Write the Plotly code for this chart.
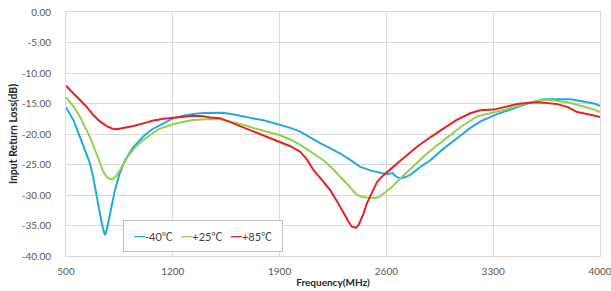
import plotly.graph_objects as go

freq_m40 = [500, 550, 592, 630, 657, 680, 701, 720, 734, 748, 756, 766, 784, 800, 821, 850, 887, 940, 1007, 1060,
            1117, 1160, 1204, 1270, 1335, 1400, 1464, 1532, 1600, 1663, 1730, 1800, 1860, 1904, 1970, 2035, 2100,
            2166, 2230, 2298, 2360, 2429, 2500, 2560, 2600, 2640, 2660, 2691, 2720, 2757, 2822, 2888, 2975, 3063,
            3150, 3220, 3282, 3330, 3400, 3457, 3540, 3631, 3720, 3806, 3900, 3960, 4000]
rl_m40 = [-15.6, -17.8, -20.5, -23.0, -24.8, -27.3, -30.3, -33.0, -34.6, -36.0, -36.6, -35.8, -33.5, -31.3, -29.2,
          -26.6, -24.3, -22.2, -20.4, -19.3, -18.5, -17.9, -17.4, -17.0, -16.7, -16.55, -16.5, -16.5, -16.8, -17.1,
          -17.5, -17.8, -18.2, -18.5, -19.0, -19.6, -20.6, -21.5, -22.3, -23.2, -24.2, -25.4, -26.0, -26.4, -26.6,
          -26.4, -26.9, -27.3, -27.1, -26.7, -25.4, -24.3, -22.4, -20.7, -19.0, -17.9, -17.2, -16.7, -16.1, -15.6,
          -14.9, -14.3, -14.3, -14.3, -14.7, -15.0, -15.4]

freq_p25 = [500, 550, 592, 630, 657, 690, 723, 745, 767, 790, 804, 825, 854, 885, 920, 960, 1007, 1060, 1117, 1160,
            1204, 1270, 1335, 1423, 1510, 1580, 1663, 1740, 1820, 1904, 1970, 2035, 2110, 2188, 2240, 2298, 2350,
            2407, 2440, 2473, 2527, 2555, 2582, 2640, 2691, 2760, 2844, 2930, 3019, 3100, 3194, 3260, 3326, 3410,
            3500, 3570, 3631, 3700, 3785, 3880, 3950, 4000]
rl_p25 = [-14.0, -15.5, -17.2, -19.0, -20.5, -22.6, -24.8, -26.2, -27.0, -27.4, -27.4, -27.0, -25.9, -24.5, -23.2,
          -22.0, -21.0, -20.0, -19.1, -18.7, -18.4, -18.0, -17.7, -17.6, -17.6, -18.0, -18.5, -19.1, -19.6, -20.2,
          -20.9, -21.8, -23.0, -24.3, -25.5, -27.0, -28.4, -30.0, -30.3, -30.4, -30.5, -30.3, -29.8, -28.6, -27.3,
          -25.6, -23.7, -21.9, -20.2, -18.6, -17.1, -16.7, -16.4, -15.8, -15.1, -14.7, -14.4, -14.5, -14.8, -15.4,
          -15.9, -16.4]

freq_p85 = [500, 550, 592, 630, 679, 720, 767, 800, 833, 880, 942, 1000, 1073, 1140, 1204, 1270, 1335, 1400, 1445,
            1510, 1600, 1707, 1800, 1904, 1970, 2035, 2080, 2122, 2180, 2232, 2280, 2319, 2350, 2374, 2400, 2418,
            2435, 2451, 2470, 2494, 2515, 2538, 2570, 2604, 2626, 2691, 2750, 2801, 2890, 2975, 3060, 3150, 3216,
            3303, 3380, 3457, 3520, 3588, 3650, 3719, 3790, 3850, 3930, 4000]
rl_p85 = [-12.1, -13.4, -14.4, -15.4, -16.9, -17.9, -18.7, -19.1, -19.2, -19.0, -18.7, -18.3, -17.8, -17.5, -17.3,
          -17.1, -17.0, -17.1, -17.3, -17.4, -18.3, -19.4, -20.2, -21.3, -22.0, -22.9, -24.2, -25.9, -27.6, -29.2,
          -31.2, -33.0, -34.3, -35.2, -35.4, -34.9, -34.0, -33.0, -31.5, -30.3, -29.0, -27.9, -27.0, -26.2, -25.8,
          -24.4, -23.2, -22.1, -20.5, -19.1, -17.7, -16.6, -16.1, -16.0, -15.5, -15.1, -14.9, -14.8, -14.9, -15.1,
          -15.6, -16.4, -16.8, -17.2]

series_names = ["-40℃", "+25℃", "+85℃"]
series_colors = ["#1FA9E1", "#92D050", "#E42320"]

x_ticks = [500, 1200, 1900, 2600, 3300, 4000]
y_ticks = [0, -5, -10, -15, -20, -25, -30, -35, -40]
y_tick_labels = ["0.00", "-5.00", "-10.00", "-15.00", "-20.00", "-25.00", "-30.00", "-35.00", "-40.00"]

fig = go.Figure()
for fx, fy, name, col in zip([freq_m40, freq_p25, freq_p85], [rl_m40, rl_p25, rl_p85], series_names, series_colors):
    fig.add_trace(go.Scatter(x=fx, y=fy, mode="lines", name=name,
                             line=dict(color=col, width=2), showlegend=False))

font_main = "Lato, 'Noto Sans CJK SC', sans-serif"
grid = "#D9D9D9"

fig.update_layout(
    width=611, height=291,
    margin=dict(l=66, r=11, t=12, b=35, autoexpand=False),
    paper_bgcolor="white", plot_bgcolor="white",
    font=dict(family=font_main, size=10, color="#595959"),
    xaxis=dict(range=[500, 4000], tickmode="array", tickvals=x_ticks,
               ticktext=[str(v) for v in x_ticks], automargin=False,
               ticklabeloverflow="allow",
               showgrid=True, gridcolor=grid, gridwidth=1,
               showline=True, linecolor=grid, linewidth=1, mirror=True,
               zeroline=False, ticks="", ticklabelstandoff=6,
               title=dict(text="<b>Frequency(MHz)</b>", standoff=2,
                          font=dict(size=10, color="#262626"))),
    yaxis=dict(range=[-40, 0], tickmode="array", tickvals=y_ticks, ticktext=y_tick_labels,
               automargin=False, ticklabeloverflow="allow",
               showgrid=True, gridcolor=grid, gridwidth=1,
               showline=True, linecolor=grid, linewidth=1, mirror=True,
               zeroline=False, ticks="", ticklabelstandoff=12,
               title=dict(text="<b>Input Return Loss(dB)</b>", standoff=2,
                          font=dict(size=10.5, color="#262626"))),
)

sep = "\u00a0" * 3
legend_text = sep.join(
    f"<span style='color:{c}'>━</span>{n}" for n, c in zip(series_names, series_colors)
)
fig.add_annotation(
    x=0.2568, y=0.082, xref="paper", yref="paper",
    xanchor="center", yanchor="middle",
    text=legend_text, showarrow=False,
    width=158, height=30, align="center",
    bgcolor="white", bordercolor="#BFBFBF", borderwidth=1, borderpad=0,
    font=dict(family=font_main, size=11, color="#404040"),
)

fig.write_html("out.html", config={"displayModeBar": False},
               post_script="document.body.style.margin='0';document.body.style.overflow='hidden';")
